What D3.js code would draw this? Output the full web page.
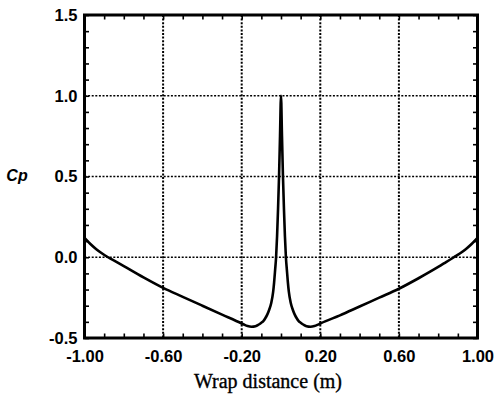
<!DOCTYPE html>
<html>
<head>
<meta charset="utf-8">
<script src="https://cdn.jsdelivr.net/npm/d3@7"></script>
<style>
  html, body { margin: 0; padding: 0; background: #fff; }
  svg { display: block; }
</style>
</head>
<body>
<svg id="chart" width="494" height="396"></svg>
<script>
// ---- data ----
const wrapDistance = [
  -1.00, -0.97, -0.94, -0.91, -0.88, -0.84, -0.80, -0.70, -0.60, -0.50, -0.40, -0.30, -0.20,
  -0.185, -0.17, -0.15, -0.13, -0.115, -0.10, -0.09, -0.08, -0.07, -0.06, -0.05,
  -0.04, -0.035, -0.03, -0.025, -0.02, -0.015, -0.01, -0.005, 0.0,
  0.005, 0.01, 0.015, 0.02, 0.025, 0.03, 0.035, 0.04, 0.05, 0.06, 0.07, 0.08,
  0.09, 0.10, 0.115, 0.13, 0.15, 0.17, 0.185, 0.20,
  0.30, 0.40, 0.50, 0.60, 0.70, 0.80, 0.84, 0.88, 0.91, 0.94, 0.97, 1.00
];
const cpValues = [
  0.12, 0.082, 0.05, 0.023, 0.0, -0.027, -0.055, -0.125, -0.19, -0.245, -0.30, -0.355, -0.41,
  -0.419, -0.426, -0.43, -0.427, -0.418, -0.405, -0.395, -0.378, -0.355, -0.325, -0.285,
  -0.215, -0.155, -0.08, 0.0, 0.13, 0.30, 0.50, 0.75, 1.00,
  0.75, 0.50, 0.30, 0.13, 0.0, -0.08, -0.155, -0.215, -0.285, -0.325, -0.355, -0.378,
  -0.395, -0.405, -0.418, -0.427, -0.43, -0.426, -0.419, -0.41,
  -0.36, -0.305, -0.25, -0.195, -0.13, -0.06, -0.03, 0.0, 0.023, 0.05, 0.082, 0.12
];
const xTickLabels = [-1.00, -0.60, -0.20, 0.20, 0.60, 1.00];
const yTickLabels = [-0.5, 0.0, 0.5, 1.0, 1.5];
const xGrid = [-0.60, -0.20, 0.20, 0.60];
const yGrid = [0.0, 0.5, 1.0];
const xMinorTicks = d3.range(-10, 11).map(i => i / 10);
const yMinorTicks = d3.range(-5, 16).map(i => i / 10);
const xTitle = "Wrap distance (m)";
const yTitle = "Cp";

// ---- layout ----
const L = 84.5, R = 477.5, T = 15, B = 338;
const svg = d3.select("#chart");
const x = d3.scaleLinear().domain([-1, 1]).range([L, R]);
const y = d3.scaleLinear().domain([-0.5, 1.5]).range([B, T]);

// grid lines
svg.append("g").selectAll("line").data(yGrid).join("line")
  .attr("x1", L).attr("x2", R)
  .attr("y1", d => y(d)).attr("y2", d => y(d))
  .attr("stroke", "#000").attr("stroke-width", 1.6)
  .attr("stroke-dasharray", "2,1.6");
svg.append("g").selectAll("line").data(xGrid).join("line")
  .attr("y1", T).attr("y2", B)
  .attr("x1", d => x(d)).attr("x2", d => x(d))
  .attr("stroke", "#000").attr("stroke-width", 2)
  .attr("stroke-dasharray", "2,1.6");

// minor ticks (inward) on all sides
function minor(axis, tr) {
  const g = svg.append("g").attr("transform", tr).call(axis);
  g.select(".domain").remove();
  g.selectAll(".tick line").attr("stroke", "#000").attr("stroke-width", 1.6);
  g.selectAll(".tick text").remove();
}
minor(d3.axisBottom(x).tickValues(xMinorTicks).tickSize(-4.5), `translate(0,${B})`);
minor(d3.axisTop(x).tickValues(xMinorTicks).tickSize(-4.5), `translate(0,${T})`);
minor(d3.axisLeft(y).tickValues(yMinorTicks).tickSize(-4.5), `translate(${L},0)`);
minor(d3.axisRight(y).tickValues(yMinorTicks).tickSize(-4.5), `translate(${R},0)`);

// labelled axes
const xa = svg.append("g").attr("transform", `translate(0,${B})`)
  .call(d3.axisBottom(x).tickValues(xTickLabels).tickSize(0).tickPadding(12)
    .tickFormat(d => d.toFixed(2)));
xa.select(".domain").remove();
xa.selectAll("text").attr("font-family", "'Liberation Sans', Arial, sans-serif")
  .attr("font-size", 16.5).attr("font-weight", "bold").attr("fill", "#000");

const ya = svg.append("g").attr("transform", `translate(${L},0)`)
  .call(d3.axisLeft(y).tickValues(yTickLabels).tickSize(0).tickPadding(7)
    .tickFormat(d => d.toFixed(1)));
ya.select(".domain").remove();
ya.selectAll("text").attr("font-family", "'Liberation Sans', Arial, sans-serif")
  .attr("font-size", 16.5).attr("font-weight", "bold").attr("fill", "#000");

// frame
svg.append("rect").attr("x", L).attr("y", T).attr("width", R - L).attr("height", B - T)
  .attr("fill", "none").attr("stroke", "#000").attr("stroke-width", 3);

// curve
const pts = wrapDistance.map((d, i) => [d, cpValues[i]]);
svg.append("path").datum(pts)
  .attr("d", d3.line().x(d => x(d[0])).y(d => y(d[1])).curve(d3.curveMonotoneX))
  .attr("fill", "none").attr("stroke", "#000").attr("stroke-width", 2.6)
  .attr("stroke-linejoin", "round");

// titles
svg.append("text").attr("x", (L + R) / 2 - 13).attr("y", 388)
  .attr("text-anchor", "middle")
  .attr("font-family", "'Liberation Serif', 'Times New Roman', serif")
  .attr("font-size", 20).attr("fill", "#000")
  .attr("stroke", "#000").attr("stroke-width", 0.35)
  .text(xTitle);
svg.append("text").attr("x", 17).attr("y", 181)
  .attr("text-anchor", "middle")
  .attr("font-family", "'Liberation Sans', Arial, sans-serif")
  .attr("font-size", 16).attr("font-weight", "bold").attr("font-style", "italic")
  .attr("fill", "#000")
  .text(yTitle);
</script>
</body>
</html>
